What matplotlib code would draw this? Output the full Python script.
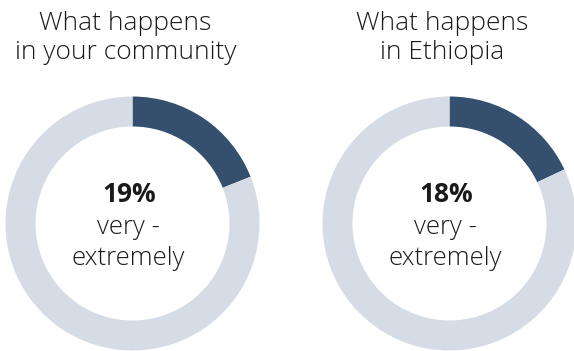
import matplotlib.pyplot as plt

titles = ["What happens\nin your community", "What happens\nin Ethiopia"]
shares = [19, 18]
labels = ["very -\nextremely", "very -\nextremely"]

dark = "#34506e"
light = "#d6dce5"
text_color = "#1a1a1a"

plt.rcParams['font.family'] = ['Open Sans', 'DejaVu Sans']

W, H = 574, 351
fig = plt.figure(figsize=(W / 100, H / 100), dpi=100)
ax = fig.add_axes([0, 0, 1, 1])
ax.set_xlim(0, W)
ax.set_ylim(0, H)
ax.set_aspect('equal')
ax.axis('off')

centers_x = [132.5, 449.5]
center_y = H - 223.5
radius = 127
ring = 30

for cx, title, share, label in zip(centers_x, titles, shares, labels):
    ax.pie([share, 100 - share], colors=[dark, light], startangle=90,
           counterclock=False, center=(cx, center_y), radius=radius,
           wedgeprops=dict(width=ring, linewidth=0), frame=True)
    ax.text(cx - 7, H - 38, title, ha='center', va='center', fontsize=19,
            fontweight='light', color=text_color, linespacing=1.25)
    ax.text(cx - 3, H - 195, f"{share}%", ha='center', va='center',
            fontsize=19, fontweight='bold', color=text_color)
    ax.text(cx - 4, H - 243, label, ha='center', va='center', fontsize=18.5,
            fontweight='light', color=text_color, linespacing=1.28)

ax.set_xlim(0, W)
ax.set_ylim(0, H)
ax.axis('off')
fig.savefig("out.png", dpi=100)
